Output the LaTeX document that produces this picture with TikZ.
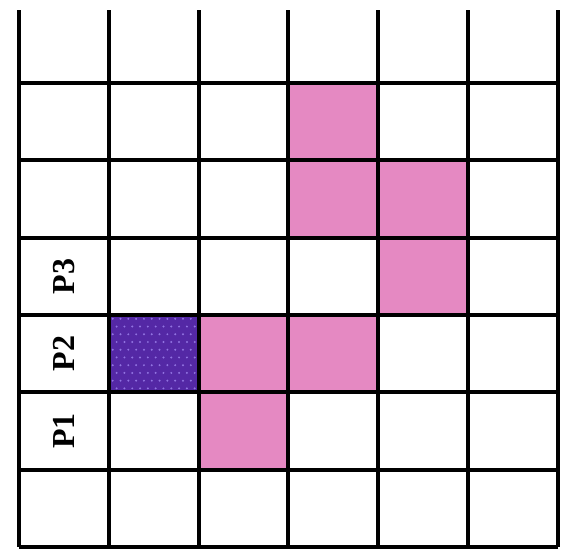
\documentclass[tikz,border=0pt]{standalone}
\usepackage{fontspec}
\setmainfont{Liberation Serif}

\definecolor{cellpink}{RGB}{229,137,194}
\definecolor{cellpurple}{RGB}{84,40,165}
\definecolor{dotpurple}{RGB}{145,115,225}

\begin{document}
\begin{tikzpicture}[x=89.8pt, y=77.3pt,
	every path/.style={line width=4pt},
	pinkcell/.style={fill=cellpink, draw=none},
	bluecell/.style={fill=cellpurple, draw=none},
	plabel/.style={rotate=90, inner sep=0, font=\fontsize{32}{36}\selectfont\bfseries}]
	\useasboundingbox (-0.2116,-0.093) rectangle (6.102,7.074);
	% marked cells
	\foreach \c/\r in {3/5, 3/4, 4/4, 4/3, 2/2, 3/2, 2/1}
		\fill[pinkcell] (\c,\r) rectangle ++(1,1);
	\fill[bluecell] (1,2) rectangle (2,3);
	\foreach \i in {1,...,11}
		\foreach \j in {1,...,10}
			\fill[dotpurple] ({1+(\i-0.5+0.5*mod(\j,2))/11.5},{2+(\j-0.5)/10}) circle (1.1pt);
	% grid
	\foreach \x in {0,...,6}
		\draw (\x,0) -- (\x,6.944);
	\foreach \y in {0,...,6}
		\draw (0,\y) -- (6,\y);
	% labels
	\node[plabel] (p1) at (0.5,1.5) {P1};
	\node[plabel] (p2) at (0.5,2.5) {P2};
	\node[plabel] (p3) at (0.5,3.5) {P3};
\end{tikzpicture}
\end{document}
